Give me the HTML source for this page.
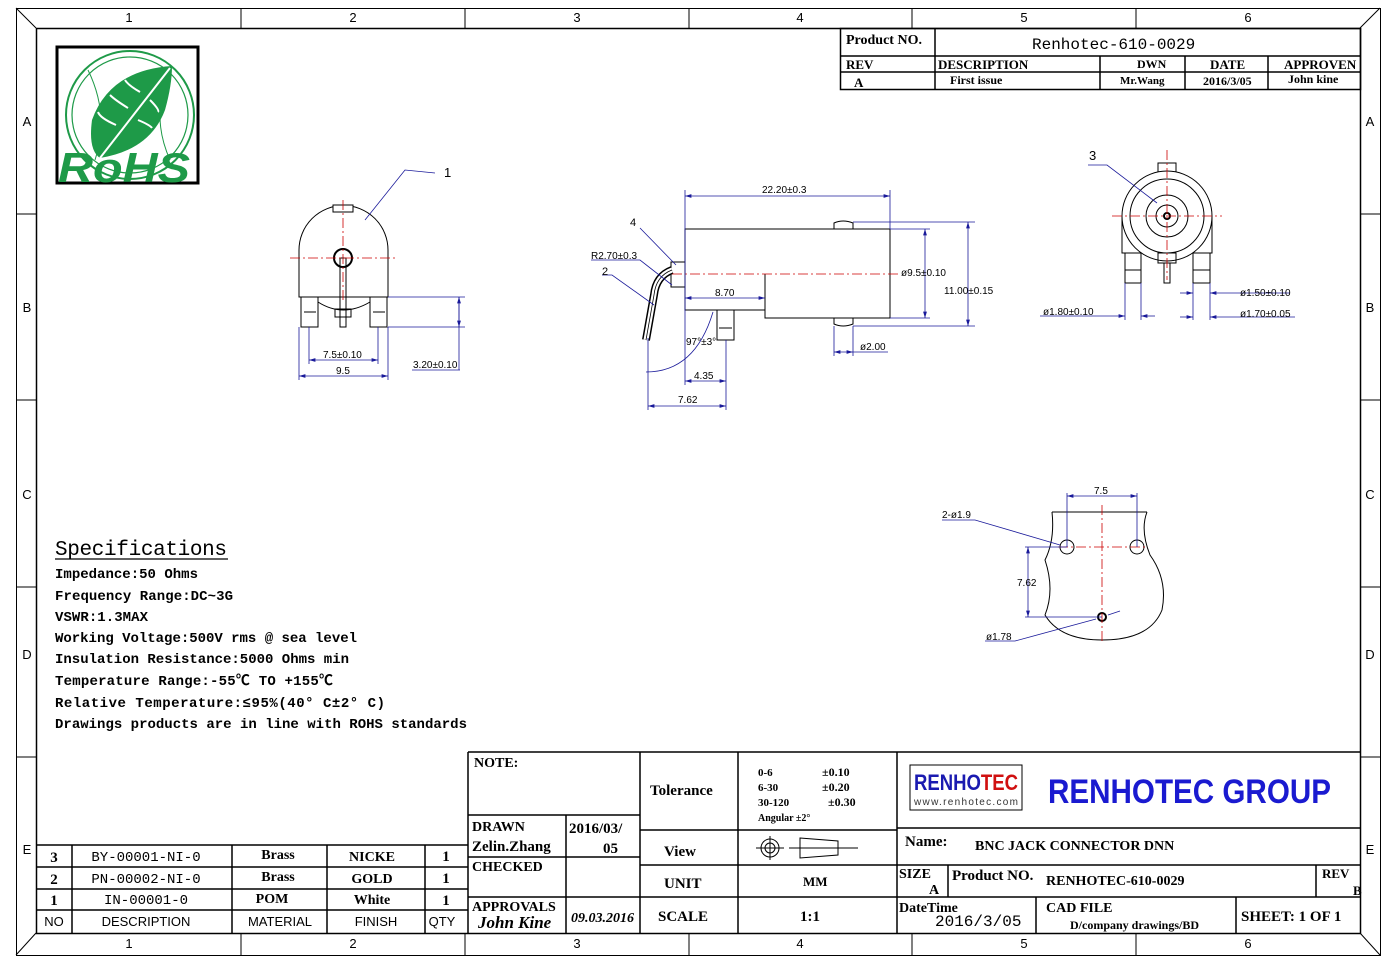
<!DOCTYPE html>
<html><head><meta charset="utf-8"><style>
html,body{margin:0;padding:0;background:#fff;}
svg{display:block}
.m{font-family:"Liberation Mono","Noto Sans CJK SC",monospace;}
.s{font-family:"Liberation Sans",sans-serif;}
.b{font-family:"Liberation Serif","Noto Serif CJK SC",serif;font-weight:bold;}
</style></head><body>
<svg width="1397" height="962" viewBox="0 0 1397 962" xmlns="http://www.w3.org/2000/svg">
<defs>
<marker id="a" viewBox="0 0 10 6" refX="10" refY="3" markerWidth="8" markerHeight="5" orient="auto-start-reverse"><path d="M0,0L10,3L0,6z" fill="#1a1a9a"/></marker>
</defs>
<g fill="none" stroke="#000" stroke-width="1">
<rect x="16.5" y="8.5" width="1364" height="947"/>
<rect x="36.5" y="28.5" width="1324" height="905" stroke-width="1.5"/>
<path d="M16 8L36 28M1380 8L1360 28M16 955L36 933M1380 955L1360 933"/>
<path d="M241 8V28M465 8V28M689 8V28M912 8V28M1136 8V28M241 933V955M465 933V955M689 933V955M912 933V955M1136 933V955"/>
<path d="M16 214H36M16 400H36M16 587H36M16 757H36M1360 214H1380M1360 400H1380M1360 587H1380M1360 757H1380"/>
</g>
<g class="s" font-size="13" fill="#000" text-anchor="middle">
<text x="129" y="22">1</text><text x="353" y="22">2</text><text x="577" y="22">3</text><text x="800" y="22">4</text><text x="1024" y="22">5</text><text x="1248" y="22">6</text>
<text x="129" y="948">1</text><text x="353" y="948">2</text><text x="577" y="948">3</text><text x="800" y="948">4</text><text x="1024" y="948">5</text><text x="1248" y="948">6</text>
<text x="27" y="126">A</text><text x="27" y="312">B</text><text x="27" y="499">C</text><text x="27" y="659">D</text><text x="27" y="854">E</text>
<text x="1370" y="126">A</text><text x="1370" y="312">B</text><text x="1370" y="499">C</text><text x="1370" y="659">D</text><text x="1370" y="854">E</text>
</g>
<g fill="none" stroke="#000" stroke-width="1.5">
<rect x="840.5" y="28.5" width="520" height="61"/>
<path d="M840 56H1360M840 72H1360M935 28V90M1100 56V90M1185 56V90M1268 56V90"/>
</g>
<g class="b" font-size="14" fill="#000">
<text x="846" y="44">Product NO.</text>
<text x="1032" y="49" font-size="16" font-weight="normal" class="m">Renhotec-610-0029</text>
<text x="846" y="69" font-size="13">REV</text>
<text x="938" y="69" font-size="13">DESCRIPTION</text>
<text x="1137" y="68" font-size="12">DWN</text>
<text x="1210" y="69" font-size="13">DATE</text>
<text x="1284" y="69" font-size="13">APPROVEN</text>
<text x="854" y="87" font-size="13">A</text>
<text x="950" y="84" font-size="12">First issue</text>
<text x="1120" y="84" font-size="11">Mr.Wang</text>
<text x="1203" y="85" font-size="12">2016/3/05</text>
<text x="1288" y="83" font-size="12">John kine</text>
</g>
<rect x="57" y="47" width="141" height="136" fill="#fff" stroke="#000" stroke-width="3"/>
<g fill="none" stroke="#1e9a48" stroke-width="2">
<circle cx="130" cy="115" r="64"/><circle cx="130" cy="115" r="58" stroke-width="1.2"/>
<path d="M88 70Q110 115 95 160M170 75Q150 115 170 160" stroke-width="1"/>
</g>
<path d="M172 66Q110 70 92 120Q88 150 100 158Q150 150 165 110Q172 85 172 66z" fill="#1e9a48"/>
<path d="M170 68L100 158M140 92Q128 85 125 80M128 108Q115 100 110 95M116 125Q100 118 98 112M150 100Q160 110 158 112M138 120Q150 125 152 128" stroke="#fff" stroke-width="2" fill="none"/>
<text x="58" y="182" font-family="Liberation Sans,sans-serif" font-weight="bold" font-style="italic" font-size="42" fill="#1e9a48" textLength="132" lengthAdjust="spacingAndGlyphs">RoHS</text>
<g fill="none" stroke="#000" stroke-width="1">
<path d="M299 297V250A44.5 44.5 0 0 1 388 250V297Z"/>
<rect x="333" y="205" width="20" height="7" fill="#fff"/>
<circle cx="343" cy="258" r="9" stroke-width="2"/>
<rect x="340" y="258" width="6" height="69"/>
<rect x="301" y="297" width="17" height="30"/><path d="M304 312H316"/>
<rect x="370" y="297" width="17" height="30"/><path d="M373 312H385"/>
<path d="M318 302Q343 318 370 302"/>
<path d="M335 309h16v8h-16z"/>
</g>
<g stroke="#c00" stroke-width="0.8" stroke-dasharray="10,3,2,3" fill="none">
<path d="M290 258H397M343 200V300"/>
</g>
<g stroke="#1a1a9a" stroke-width="0.8" fill="none">
<path d="M388 297H465M388 327H465M459 297V370M299 327V380M388 327V380M309 327V364M378 327V364"/>
<path d="M459 297V327" marker-start="url(#a)" marker-end="url(#a)"/>
<path d="M309 360H378" marker-start="url(#a)" marker-end="url(#a)"/>
<path d="M299 376H388" marker-start="url(#a)" marker-end="url(#a)"/>
<path d="M412 370H460"/>
<path d="M365 220L405 170L435 173"/>
</g>
<g class="s" font-size="10" fill="#000">
<text x="323" y="358">7.5±0.10</text><text x="336" y="374">9.5</text><text x="413" y="368">3.20±0.10</text>
<text x="444" y="177" font-size="13">1</text>
</g>
<g fill="none" stroke="#000" stroke-width="1">
<path d="M685 229H890V318H765V310H685Z"/>
<path d="M765 274V310"/>
<rect x="671" y="262" width="14" height="25"/>
<path d="M834 229V223Q843 219 853 223V229M834 318V324Q843 328 853 324V318"/>
<rect x="717" y="310" width="17" height="30"/><path d="M719 328H732"/>
</g>
<path d="M672 270Q656 276 654 295L646 340" fill="none" stroke="#000" stroke-width="8"/>
<path d="M672 270Q656 276 654 295L646 340" fill="none" stroke="#fff" stroke-width="5"/>
<path d="M672 270Q656 276 654 295L646 340" fill="none" stroke="#000" stroke-width="0.8"/>
<path d="M672 274H900" stroke="#c00" stroke-width="0.8" stroke-dasharray="10,3,2,3"/>
<g stroke="#1a1a9a" stroke-width="0.8" fill="none">
<path d="M685 190V385M890 190V229M890 229H930M890 318H930M853 222H975M853 326H975M834 326V356M853 326V356M648 338V410M726 340V410"/>
<path d="M685 196H890" marker-start="url(#a)" marker-end="url(#a)"/>
<path d="M925 229V318" marker-start="url(#a)" marker-end="url(#a)"/>
<path d="M968 222V326" marker-start="url(#a)" marker-end="url(#a)"/>
<path d="M685 298H765" marker-start="url(#a)" marker-end="url(#a)"/>
<path d="M834 352H853" marker-start="url(#a)" marker-end="url(#a)"/>
<path d="M853 352H888"/>
<path d="M685 381H726" marker-start="url(#a)" marker-end="url(#a)"/>
<path d="M648 406H726" marker-start="url(#a)" marker-end="url(#a)"/>
<path d="M646 372Q695 372 713 312"/>
<path d="M640 228L676 265M591 260H640L672 285M602 275H612L654 305"/>
</g>
<g class="s" font-size="10" fill="#000">
<text x="762" y="193">22.20±0.3</text><text x="901" y="276">ø9.5±0.10</text><text x="944" y="294">11.00±0.15</text>
<text x="715" y="296">8.70</text><text x="860" y="350">ø2.00</text><text x="694" y="379">4.35</text><text x="678" y="403">7.62</text>
<text x="686" y="345">97°±3°</text><text x="591" y="259">R2.70±0.3</text>
<text x="630" y="226" font-size="11">4</text><text x="602" y="275" font-size="11">2</text>
</g>
<g fill="none" stroke="#000" stroke-width="1">
<rect x="1158" y="163" width="18" height="9" fill="#fff"/>
<path d="M1122 216V253H1212V216"/>
<circle cx="1167" cy="216" r="45" fill="#fff"/>
<circle cx="1167" cy="216" r="37"/><circle cx="1167" cy="216" r="21"/><circle cx="1167" cy="216" r="11"/>
<circle cx="1167" cy="216" r="3" stroke-width="2"/>
<rect x="1158" y="253" width="18" height="10"/><rect x="1164" y="263" width="6" height="20"/>
<rect x="1125" y="253" width="16" height="30"/><path d="M1125 270H1141"/>
<rect x="1193" y="253" width="17" height="30"/><path d="M1193 270H1210"/>
</g>
<path d="M1112 216H1222M1167 150V280" stroke="#c00" stroke-width="0.8" stroke-dasharray="10,3,2,3"/>
<g stroke="#1a1a9a" stroke-width="0.8" fill="none">
<path d="M1088 165H1107L1157 203"/>
<path d="M1125 283V320M1141 283V320M1193 283V320M1210 283V320"/>
<path d="M1180 293H1193" marker-end="url(#a)"/><path d="M1290 293H1210" marker-end="url(#a)"/>
<path d="M1180 317H1193" marker-end="url(#a)"/><path d="M1295 317H1210" marker-end="url(#a)"/>
<path d="M1040 316H1125" marker-end="url(#a)"/><path d="M1155 316H1141" marker-end="url(#a)"/>
</g>
<g class="s" font-size="10" fill="#000">
<text x="1089" y="160" font-size="13">3</text>
<text x="1240" y="296">ø1.50±0.10</text><text x="1240" y="317">ø1.70±0.05</text><text x="1043" y="315">ø1.80±0.10</text>
</g>
<g fill="none" stroke="#000" stroke-width="1">
<path d="M1052 512H1147M1052 512Q1055 540 1045 560Q1055 590 1045 615Q1060 640 1102 640Q1150 640 1162 610Q1168 580 1150 555Q1140 530 1147 512"/>
<circle cx="1067" cy="547" r="7"/><circle cx="1137" cy="547" r="7"/><circle cx="1102" cy="617" r="4" stroke-width="2"/>
</g>
<path d="M1102 505V643M1058 547H1148" stroke="#c00" stroke-width="0.8" stroke-dasharray="10,3,2,3"/>
<g stroke="#1a1a9a" stroke-width="0.8" fill="none">
<path d="M1067 493V547M1137 493V547M1025 547H1067M1025 617H1102"/>
<path d="M1067 496H1137" marker-start="url(#a)" marker-end="url(#a)"/>
<path d="M1028 547V617" marker-start="url(#a)" marker-end="url(#a)"/>
<path d="M942 520H975L1060 545"/><path d="M985 641H1015L1096 619"/>
<path d="M1108 615L1120 611"/>
</g>
<g class="s" font-size="10" fill="#000">
<text x="1094" y="494">7.5</text><text x="942" y="518">2-ø1.9</text><text x="1017" y="586">7.62</text><text x="986" y="640">ø1.78</text>
</g>
<g class="m" fill="#000" font-size="14" font-weight="bold">
<text x="55" y="555" font-size="21" font-weight="normal" textLength="172">Specifications</text>
<path d="M55 559H228" stroke="#000" stroke-width="1.2"/>
<text x="55" y="578" textLength="143">Impedance:50 Ohms</text>
<text x="55" y="600" textLength="178">Frequency Range:DC~3G</text>
<text x="55" y="621" textLength="93">VSWR:1.3MAX</text>
<text x="55" y="642" textLength="302">Working Voltage:500V rms @ sea level</text>
<text x="55" y="663" textLength="294">Insulation Resistance:5000 Ohms min</text>
<text x="55" y="685" textLength="278">Temperature Range:-55℃ TO +155℃</text>
<text x="55" y="707" textLength="330">Relative Temperature:≤95%(40° C±2° C)</text>
<text x="55" y="728" textLength="412">Drawings products are in line with ROHS standards</text>
</g>
<g fill="none" stroke="#000" stroke-width="1.5">
<path d="M468 752H1360M468 752V933M640 752V933M738 752V933M897 752V933"/>
<path d="M468 815H640M566 815V933M468 857H640M468 897H640"/>
<path d="M640 830H897M640 865H897M640 897H897"/>
<path d="M897 828H1360M897 865H1360M897 897H1360M948 865V897M1316 865V897M1036 897V933M1236 897V933"/>
<path d="M36 845H468M36 867H468M36 889H468M36 910H468M72 845V933M232 845V933M327 845V933M425 845V933"/>
</g>
<g class="b" font-size="14" fill="#000">
<text x="474" y="767">NOTE:</text>
<text x="650" y="795" font-size="15">Tolerance</text>
<text x="758" y="776" font-size="11">0-6</text><text x="822" y="776" font-size="12">±0.10</text>
<text x="758" y="791" font-size="11">6-30</text><text x="822" y="791" font-size="12">±0.20</text>
<text x="758" y="806" font-size="11">30-120</text><text x="828" y="806" font-size="12">±0.30</text>
<text x="758" y="821" font-size="10">Angular  ±2°</text>
<text x="472" y="831">DRAWN</text>
<text x="472" y="851" font-size="15">Zelin.Zhang</text>
<text x="569" y="833" font-size="15">2016/03/</text>
<text x="603" y="853" font-size="15">05</text>
<text x="472" y="871">CHECKED</text>
<text x="472" y="911">APPROVALS</text>
<text x="478" y="928" font-style="italic" font-size="17">John Kine</text>
<text x="571" y="922" font-style="italic" font-size="14">09.03.2016</text>
<text x="664" y="856" font-size="15">View</text>
<text x="664" y="888" font-size="15">UNIT</text>
<text x="658" y="921" font-size="15">SCALE</text>
<text x="803" y="886" font-size="13">MM</text>
<text x="800" y="921" font-size="15">1:1</text>
<text x="905" y="846" font-size="15">Name:</text>
<text x="975" y="850" font-size="14">BNC JACK CONNECTOR  DNN</text>
<text x="899" y="878" font-size="14">SIZE</text><text x="929" y="894" font-size="14">A</text>
<text x="952" y="880" font-size="15">Product NO.</text><text x="1046" y="885" font-size="14">RENHOTEC-610-0029</text>
<text x="1322" y="878" font-size="13">REV</text><text x="1353" y="895" font-size="13">B</text>
<text x="899" y="912" font-size="14">DateTime</text>
<text x="935" y="926" font-size="16" class="m" font-weight="normal">2016/3/05</text>
<text x="1046" y="912" font-size="14">CAD FILE</text>
<text x="1070" y="929" font-size="12">D/company drawings/BD</text>
<text x="1241" y="921" font-size="15">SHEET: 1 OF 1</text>
</g>
<g fill="none" stroke="#000" stroke-width="1">
<circle cx="770" cy="848" r="9"/><circle cx="770" cy="848" r="5"/><path d="M756 848H784M770 836V860"/>
<path d="M789 848H858M800 838L838 841V855L800 858Z"/>
</g>
<rect x="910" y="765" width="112" height="45" fill="#fff" stroke="#000" stroke-width="1"/>
<text x="914" y="790" font-family="Liberation Sans,sans-serif" font-weight="bold" font-size="22" fill="#1a1ab0" textLength="104" lengthAdjust="spacingAndGlyphs">RENHO<tspan fill="#d01010">TEC</tspan></text>
<text x="914" y="805" class="s" font-size="10" fill="#333" textLength="104">www.renhotec.com</text>
<text x="1048" y="803" class="s" font-size="34" font-weight="bold" fill="#1a1ad0" textLength="283" lengthAdjust="spacingAndGlyphs">RENHOTEC  GROUP</text>
<g class="b" font-size="14" fill="#000" text-anchor="middle">
<text x="54" y="862" font-size="15">3</text><text x="146" y="861" font-weight="normal" class="m">BY-00001-NI-0</text><text x="278" y="859">Brass</text><text x="372" y="861">NICKE</text><text x="446" y="861" font-size="15">1</text>
<text x="54" y="884" font-size="15">2</text><text x="146" y="883" font-weight="normal" class="m">PN-00002-NI-0</text><text x="278" y="881">Brass</text><text x="372" y="883">GOLD</text><text x="446" y="883" font-size="15">1</text>
<text x="54" y="905" font-size="15">1</text><text x="146" y="904" font-weight="normal" class="m">IN-00001-0</text><text x="272" y="903">POM</text><text x="372" y="904">White</text><text x="446" y="905" font-size="15">1</text>
</g>
<g class="s" font-size="13" fill="#000" text-anchor="middle">
<text x="54" y="926">NO</text><text x="146" y="926">DESCRIPTION</text><text x="280" y="926">MATERIAL</text><text x="376" y="926">FINISH</text><text x="442" y="926">QTY</text>
</g>
</svg>
</body></html>
